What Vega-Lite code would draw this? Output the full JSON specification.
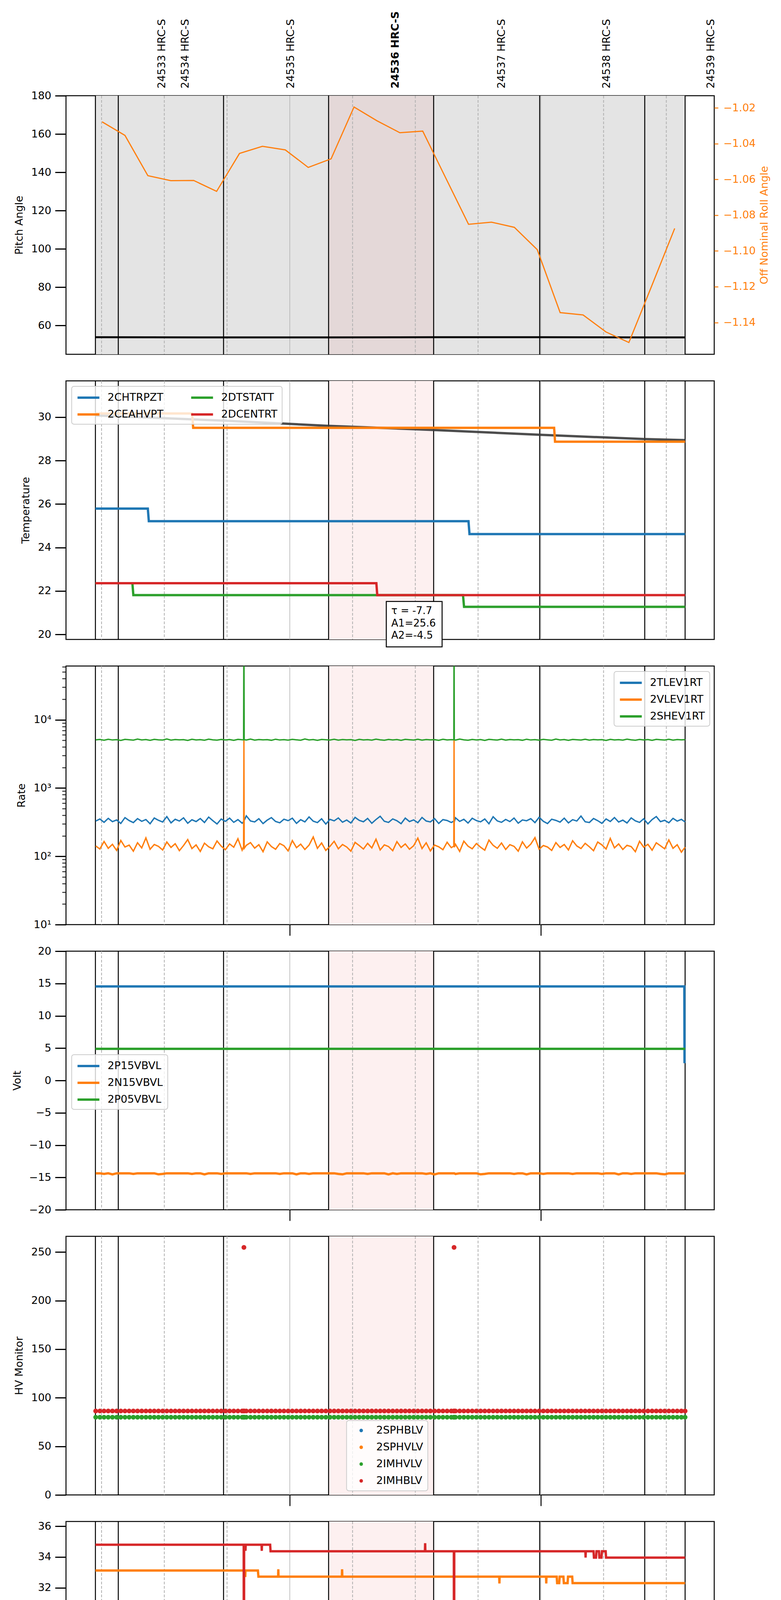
{
  "$schema": "https://vega.github.io/schema/vega-lite/v6.json",
  "padding": {"left": 28, "top": 26, "right": 10, "bottom": 0},
  "bounds": "flush",
  "spacing": 68,
  "config": {
    "font": "DejaVu Sans",
    "view": {"stroke": "#000000", "strokeWidth": 2.5},
    "axis": {"domain": false, "grid": false, "tickColor": "#000000", "labelColor": "#000000", "titleColor": "#000000", "labelFontSize": 27, "titleFontSize": 27, "titleFontWeight": "normal", "labelFlush": false, "labelOverlap": false, "labelBound": false},
    "axisY": {"tickSize": 28, "tickWidth": 3, "labelPadding": 10, "titlePadding": 16},
    "legend": {"labelFontSize": 27, "labelColor": "#000000", "fillColor": "rgba(255,255,255,0.8)", "strokeColor": "#cccccc", "strokeWidth": 2, "cornerRadius": 6, "padding": 12, "rowPadding": 13, "labelLimit": 400}
  },
  "resolve": {"scale": {"color": "independent"}},
  "datasets": {
    "span": [{"start": 13.53, "end": 154.49}],
    "hilite": [{"start": 69.27, "end": 94.38}],
    "gminor": [{"t": 15}, {"t": 30}, {"t": 45}, {"t": 75}, {"t": 90}, {"t": 105}, {"t": 135}, {"t": 150}],
    "gmajor": [{"t": 60}, {"t": 120}],
    "bounds": [{"t": 13.53}, {"t": 19.0}, {"t": 44.16}, {"t": 69.27}, {"t": 94.38}, {"t": 119.73}, {"t": 144.84}, {"t": 154.49}],
    "pitch": [{"t": 13.53, "v": 53.9}, {"t": 44.16, "v": 53.8}, {"t": 69.27, "v": 53.8}, {"t": 94.38, "v": 53.9}, {"t": 119.73, "v": 53.9}, {"t": 144.84, "v": 53.8}, {"t": 154.49, "v": 53.8}],
    "roll": [
      {"t": 15.12, "v": -1.0278}, {"t": 20.6, "v": -1.0354}, {"t": 26.07, "v": -1.0579}, {"t": 31.55, "v": -1.0607}, {"t": 37.02, "v": -1.0606},
      {"t": 42.5, "v": -1.0667}, {"t": 47.97, "v": -1.0455}, {"t": 53.45, "v": -1.0415}, {"t": 58.92, "v": -1.0435}, {"t": 64.4, "v": -1.0533},
      {"t": 69.87, "v": -1.0485}, {"t": 75.35, "v": -1.0195}, {"t": 80.82, "v": -1.0272}, {"t": 86.3, "v": -1.0339}, {"t": 91.77, "v": -1.033},
      {"t": 97.25, "v": -1.0591}, {"t": 102.72, "v": -1.0851}, {"t": 108.2, "v": -1.0839}, {"t": 113.67, "v": -1.0868}, {"t": 119.15, "v": -1.0993},
      {"t": 124.62, "v": -1.1345}, {"t": 130.1, "v": -1.1358}, {"t": 135.57, "v": -1.1453}, {"t": 141.05, "v": -1.1512}, {"t": 146.52, "v": -1.1195},
      {"t": 152.0, "v": -1.0874}
    ],
    "temp": [
      {"t": 13.53, "s": "2CHTRPZT", "v": 25.79}, {"t": 26.06, "s": "2CHTRPZT", "v": 25.79}, {"t": 26.3, "s": "2CHTRPZT", "v": 25.21}, {"t": 102.71, "s": "2CHTRPZT", "v": 25.21}, {"t": 102.95, "s": "2CHTRPZT", "v": 24.62}, {"t": 154.49, "s": "2CHTRPZT", "v": 24.62},
      {"t": 13.53, "s": "2CEAHVPT", "v": 30.17}, {"t": 36.65, "s": "2CEAHVPT", "v": 30.17}, {"t": 36.9, "s": "2CEAHVPT", "v": 29.51}, {"t": 123.18, "s": "2CEAHVPT", "v": 29.51}, {"t": 123.4, "s": "2CEAHVPT", "v": 28.87}, {"t": 154.49, "s": "2CEAHVPT", "v": 28.87},
      {"t": 13.53, "s": "2DTSTATT", "v": 22.36}, {"t": 22.37, "s": "2DTSTATT", "v": 22.36}, {"t": 22.6, "s": "2DTSTATT", "v": 21.81}, {"t": 101.4, "s": "2DTSTATT", "v": 21.81}, {"t": 101.65, "s": "2DTSTATT", "v": 21.27}, {"t": 154.49, "s": "2DTSTATT", "v": 21.27},
      {"t": 13.53, "s": "2DCENTRT", "v": 22.36}, {"t": 80.69, "s": "2DCENTRT", "v": 22.36}, {"t": 80.9, "s": "2DCENTRT", "v": 21.81}, {"t": 154.49, "s": "2DCENTRT", "v": 21.81}
    ],
    "model": [{"t": 13.53, "v": 30.08}, {"t": 44.16, "v": 29.84}, {"t": 69.27, "v": 29.6}, {"t": 94.38, "v": 29.41}, {"t": 119.73, "v": 29.19}, {"t": 144.84, "v": 28.99}, {"t": 154.49, "v": 28.94}],
    "tbox": [{"x1": 83.06, "x2": 96.4, "y1": 21.52, "y2": 19.43}],
    "tnote": [{"t": 84.26, "v": 21.09, "txt": "τ = -7.7"}, {"t": 84.26, "v": 20.51, "txt": "A1=25.6"}, {"t": 84.26, "v": 19.95, "txt": "A2=-4.5"}],
    "volt": [
      {"t": 13.53, "s": "2P15VBVL", "v": 14.54}, {"t": 154.3, "s": "2P15VBVL", "v": 14.54}, {"t": 154.35, "s": "2P15VBVL", "v": 2.68},
      {"t": 13.53, "s": "2P05VBVL", "v": 4.9}, {"t": 154.49, "s": "2P05VBVL", "v": 4.9}
    ],
    "tlm": [
      {"t": 13.6, "2TLEV1RT": 328, "2VLEV1RT": 142, "2SHEV1RT": 5080, "2N15VBVL": -14.36, "2IMHBLV": 86.4, "2IMHVLV": 80},
      {"t": 14.6, "2TLEV1RT": 352, "2VLEV1RT": 128, "2SHEV1RT": 5150, "2N15VBVL": -14.36, "2IMHBLV": 86.4, "2IMHVLV": 80},
      {"t": 15.6, "2TLEV1RT": 315, "2VLEV1RT": 165, "2SHEV1RT": 5020, "2N15VBVL": -14.46, "2IMHBLV": 86.4, "2IMHVLV": 80},
      {"t": 16.6, "2TLEV1RT": 360, "2VLEV1RT": 131, "2SHEV1RT": 5190, "2N15VBVL": -14.36, "2IMHBLV": 86.4, "2IMHVLV": 80},
      {"t": 17.6, "2TLEV1RT": 322, "2VLEV1RT": 150, "2SHEV1RT": 5060, "2N15VBVL": -14.52, "2IMHBLV": 86.4, "2IMHVLV": 80},
      {"t": 18.6, "2TLEV1RT": 341, "2VLEV1RT": 122, "2SHEV1RT": 5120, "2N15VBVL": -14.36, "2IMHBLV": 86.4, "2IMHVLV": 80},
      {"t": 19.6, "2TLEV1RT": 303, "2VLEV1RT": 171, "2SHEV1RT": 4990, "2N15VBVL": -14.36, "2IMHBLV": 86.4, "2IMHVLV": 80},
      {"t": 20.6, "2TLEV1RT": 369, "2VLEV1RT": 137, "2SHEV1RT": 5170, "2N15VBVL": -14.36, "2IMHBLV": 86.4, "2IMHVLV": 80},
      {"t": 21.6, "2TLEV1RT": 334, "2VLEV1RT": 146, "2SHEV1RT": 5100, "2N15VBVL": -14.36, "2IMHBLV": 86.4, "2IMHVLV": 80},
      {"t": 22.6, "2TLEV1RT": 312, "2VLEV1RT": 119, "2SHEV1RT": 5040, "2N15VBVL": -14.46, "2IMHBLV": 86.4, "2IMHVLV": 80},
      {"t": 23.6, "2TLEV1RT": 357, "2VLEV1RT": 158, "2SHEV1RT": 5210, "2N15VBVL": -14.36, "2IMHBLV": 86.4, "2IMHVLV": 80},
      {"t": 24.6, "2TLEV1RT": 326, "2VLEV1RT": 133, "2SHEV1RT": 5070, "2N15VBVL": -14.36, "2IMHBLV": 86.4, "2IMHVLV": 80},
      {"t": 25.6, "2TLEV1RT": 346, "2VLEV1RT": 186, "2SHEV1RT": 5130, "2N15VBVL": -14.36, "2IMHBLV": 86.4, "2IMHVLV": 80},
      {"t": 26.6, "2TLEV1RT": 300, "2VLEV1RT": 127, "2SHEV1RT": 5010, "2N15VBVL": -14.36, "2IMHBLV": 86.4, "2IMHVLV": 80},
      {"t": 27.6, "2TLEV1RT": 364, "2VLEV1RT": 149, "2SHEV1RT": 5160, "2N15VBVL": -14.36, "2IMHBLV": 86.4, "2IMHVLV": 80},
      {"t": 28.6, "2TLEV1RT": 337, "2VLEV1RT": 140, "2SHEV1RT": 5090, "2N15VBVL": -14.52, "2IMHBLV": 86.4, "2IMHVLV": 80},
      {"t": 29.6, "2TLEV1RT": 318, "2VLEV1RT": 124, "2SHEV1RT": 5050, "2N15VBVL": -14.46, "2IMHBLV": 86.4, "2IMHVLV": 80},
      {"t": 30.6, "2TLEV1RT": 382, "2VLEV1RT": 162, "2SHEV1RT": 5240, "2N15VBVL": -14.36, "2IMHBLV": 86.4, "2IMHVLV": 80},
      {"t": 31.6, "2TLEV1RT": 309, "2VLEV1RT": 135, "2SHEV1RT": 5030, "2N15VBVL": -14.36, "2IMHBLV": 86.4, "2IMHVLV": 80},
      {"t": 32.6, "2TLEV1RT": 349, "2VLEV1RT": 153, "2SHEV1RT": 5140, "2N15VBVL": -14.36, "2IMHBLV": 86.4, "2IMHVLV": 80},
      {"t": 33.6, "2TLEV1RT": 329, "2VLEV1RT": 121, "2SHEV1RT": 5080, "2N15VBVL": -14.36, "2IMHBLV": 86.4, "2IMHVLV": 80},
      {"t": 34.6, "2TLEV1RT": 366, "2VLEV1RT": 144, "2SHEV1RT": 5110, "2N15VBVL": -14.36, "2IMHBLV": 86.4, "2IMHVLV": 80},
      {"t": 35.6, "2TLEV1RT": 305, "2VLEV1RT": 176, "2SHEV1RT": 4980, "2N15VBVL": -14.36, "2IMHBLV": 86.4, "2IMHVLV": 80},
      {"t": 36.6, "2TLEV1RT": 343, "2VLEV1RT": 130, "2SHEV1RT": 5180, "2N15VBVL": -14.46, "2IMHBLV": 86.4, "2IMHVLV": 80},
      {"t": 37.6, "2TLEV1RT": 323, "2VLEV1RT": 147, "2SHEV1RT": 5060, "2N15VBVL": -14.36, "2IMHBLV": 86.4, "2IMHVLV": 80},
      {"t": 38.6, "2TLEV1RT": 358, "2VLEV1RT": 118, "2SHEV1RT": 5120, "2N15VBVL": -14.36, "2IMHBLV": 86.4, "2IMHVLV": 80},
      {"t": 39.6, "2TLEV1RT": 313, "2VLEV1RT": 156, "2SHEV1RT": 5020, "2N15VBVL": -14.52, "2IMHBLV": 86.4, "2IMHVLV": 80},
      {"t": 40.6, "2TLEV1RT": 376, "2VLEV1RT": 138, "2SHEV1RT": 5200, "2N15VBVL": -14.36, "2IMHBLV": 86.4, "2IMHVLV": 80},
      {"t": 41.6, "2TLEV1RT": 333, "2VLEV1RT": 129, "2SHEV1RT": 5090, "2N15VBVL": -14.36, "2IMHBLV": 86.4, "2IMHVLV": 80},
      {"t": 42.6, "2TLEV1RT": 298, "2VLEV1RT": 168, "2SHEV1RT": 5040, "2N15VBVL": -14.36, "2IMHBLV": 86.4, "2IMHVLV": 80},
      {"t": 43.6, "2TLEV1RT": 352, "2VLEV1RT": 141, "2SHEV1RT": 5150, "2N15VBVL": -14.46, "2IMHBLV": 86.4, "2IMHVLV": 80},
      {"t": 44.6, "2TLEV1RT": 325, "2VLEV1RT": 125, "2SHEV1RT": 5070, "2N15VBVL": -14.36, "2IMHBLV": 86.4, "2IMHVLV": 80},
      {"t": 45.6, "2TLEV1RT": 363, "2VLEV1RT": 152, "2SHEV1RT": 5130, "2N15VBVL": -14.36, "2IMHBLV": 86.4, "2IMHVLV": 80},
      {"t": 46.6, "2TLEV1RT": 315, "2VLEV1RT": 136, "2SHEV1RT": 5000, "2N15VBVL": -14.36, "2IMHBLV": 86.4, "2IMHVLV": 80},
      {"t": 47.6, "2TLEV1RT": 345, "2VLEV1RT": 181, "2SHEV1RT": 5170, "2N15VBVL": -14.36, "2IMHBLV": 86.4, "2IMHVLV": 80},
      {"t": 48.6, "2TLEV1RT": 306, "2VLEV1RT": 123, "2SHEV1RT": 5100, "2N15VBVL": -14.36, "2IMHBLV": 86.4, "2IMHVLV": 80},
      {"t": 48.95, "2TLEV1RT": 321, "2VLEV1RT": 139, "2SHEV1RT": 5090, "2N15VBVL": -14.36, "2IMHBLV": 86.4, "2IMHVLV": 80},
      {"t": 49.03, "2TLEV1RT": 330, "2VLEV1RT": 5000, "2SHEV1RT": 400000, "2N15VBVL": -14.36, "2IMHBLV": 254.8, "2IMHVLV": 80},
      {"t": 49.1, "2TLEV1RT": 336, "2VLEV1RT": 131, "2SHEV1RT": 5120, "2N15VBVL": -14.36, "2IMHBLV": 86.4, "2IMHVLV": 80},
      {"t": 49.6, "2TLEV1RT": 392, "2VLEV1RT": 145, "2SHEV1RT": 5050, "2N15VBVL": -14.36, "2IMHBLV": 86.4, "2IMHVLV": 80},
      {"t": 50.6, "2TLEV1RT": 330, "2VLEV1RT": 159, "2SHEV1RT": 5220, "2N15VBVL": -14.46, "2IMHBLV": 86.4, "2IMHVLV": 80},
      {"t": 51.6, "2TLEV1RT": 319, "2VLEV1RT": 132, "2SHEV1RT": 5030, "2N15VBVL": -14.36, "2IMHBLV": 86.4, "2IMHVLV": 80},
      {"t": 52.6, "2TLEV1RT": 356, "2VLEV1RT": 148, "2SHEV1RT": 5140, "2N15VBVL": -14.36, "2IMHBLV": 86.4, "2IMHVLV": 80},
      {"t": 53.6, "2TLEV1RT": 302, "2VLEV1RT": 117, "2SHEV1RT": 5080, "2N15VBVL": -14.36, "2IMHBLV": 86.4, "2IMHVLV": 80},
      {"t": 54.6, "2TLEV1RT": 339, "2VLEV1RT": 163, "2SHEV1RT": 5110, "2N15VBVL": -14.36, "2IMHBLV": 86.4, "2IMHVLV": 80},
      {"t": 55.6, "2TLEV1RT": 369, "2VLEV1RT": 139, "2SHEV1RT": 5010, "2N15VBVL": -14.36, "2IMHBLV": 86.4, "2IMHVLV": 80},
      {"t": 56.6, "2TLEV1RT": 324, "2VLEV1RT": 127, "2SHEV1RT": 5190, "2N15VBVL": -14.36, "2IMHBLV": 86.4, "2IMHVLV": 80},
      {"t": 57.6, "2TLEV1RT": 310, "2VLEV1RT": 154, "2SHEV1RT": 5060, "2N15VBVL": -14.46, "2IMHBLV": 86.4, "2IMHVLV": 80},
      {"t": 58.6, "2TLEV1RT": 350, "2VLEV1RT": 143, "2SHEV1RT": 5120, "2N15VBVL": -14.36, "2IMHBLV": 86.4, "2IMHVLV": 80},
      {"t": 59.6, "2TLEV1RT": 333, "2VLEV1RT": 120, "2SHEV1RT": 5040, "2N15VBVL": -14.36, "2IMHBLV": 86.4, "2IMHVLV": 80},
      {"t": 60.6, "2TLEV1RT": 362, "2VLEV1RT": 170, "2SHEV1RT": 5160, "2N15VBVL": -14.36, "2IMHBLV": 86.4, "2IMHVLV": 80},
      {"t": 61.6, "2TLEV1RT": 304, "2VLEV1RT": 134, "2SHEV1RT": 5090, "2N15VBVL": -14.52, "2IMHBLV": 86.4, "2IMHVLV": 80},
      {"t": 62.6, "2TLEV1RT": 344, "2VLEV1RT": 151, "2SHEV1RT": 5020, "2N15VBVL": -14.36, "2IMHBLV": 86.4, "2IMHVLV": 80},
      {"t": 63.6, "2TLEV1RT": 319, "2VLEV1RT": 126, "2SHEV1RT": 5230, "2N15VBVL": -14.36, "2IMHBLV": 86.4, "2IMHVLV": 80},
      {"t": 64.6, "2TLEV1RT": 378, "2VLEV1RT": 146, "2SHEV1RT": 5070, "2N15VBVL": -14.46, "2IMHBLV": 86.4, "2IMHVLV": 80},
      {"t": 65.6, "2TLEV1RT": 327, "2VLEV1RT": 192, "2SHEV1RT": 5130, "2N15VBVL": -14.36, "2IMHBLV": 86.4, "2IMHVLV": 80},
      {"t": 66.6, "2TLEV1RT": 312, "2VLEV1RT": 131, "2SHEV1RT": 5000, "2N15VBVL": -14.36, "2IMHBLV": 86.4, "2IMHVLV": 80},
      {"t": 67.6, "2TLEV1RT": 355, "2VLEV1RT": 157, "2SHEV1RT": 5150, "2N15VBVL": -14.36, "2IMHBLV": 86.4, "2IMHVLV": 80},
      {"t": 68.6, "2TLEV1RT": 297, "2VLEV1RT": 122, "2SHEV1RT": 5100, "2N15VBVL": -14.36, "2IMHBLV": 86.4, "2IMHVLV": 80},
      {"t": 69.6, "2TLEV1RT": 348, "2VLEV1RT": 140, "2SHEV1RT": 5050, "2N15VBVL": -14.36, "2IMHBLV": 86.4, "2IMHVLV": 80},
      {"t": 70.6, "2TLEV1RT": 331, "2VLEV1RT": 166, "2SHEV1RT": 5180, "2N15VBVL": -14.36, "2IMHBLV": 86.4, "2IMHVLV": 80},
      {"t": 71.6, "2TLEV1RT": 365, "2VLEV1RT": 129, "2SHEV1RT": 5030, "2N15VBVL": -14.46, "2IMHBLV": 86.4, "2IMHVLV": 80},
      {"t": 72.6, "2TLEV1RT": 316, "2VLEV1RT": 149, "2SHEV1RT": 5140, "2N15VBVL": -14.52, "2IMHBLV": 86.4, "2IMHVLV": 80},
      {"t": 73.6, "2TLEV1RT": 340, "2VLEV1RT": 137, "2SHEV1RT": 5080, "2N15VBVL": -14.36, "2IMHBLV": 86.4, "2IMHVLV": 80},
      {"t": 74.6, "2TLEV1RT": 308, "2VLEV1RT": 119, "2SHEV1RT": 5110, "2N15VBVL": -14.36, "2IMHBLV": 86.4, "2IMHVLV": 80},
      {"t": 75.6, "2TLEV1RT": 372, "2VLEV1RT": 160, "2SHEV1RT": 4990, "2N15VBVL": -14.36, "2IMHBLV": 86.4, "2IMHVLV": 80},
      {"t": 76.6, "2TLEV1RT": 336, "2VLEV1RT": 144, "2SHEV1RT": 5170, "2N15VBVL": -14.36, "2IMHBLV": 86.4, "2IMHVLV": 80},
      {"t": 77.6, "2TLEV1RT": 321, "2VLEV1RT": 128, "2SHEV1RT": 5060, "2N15VBVL": -14.36, "2IMHBLV": 86.4, "2IMHVLV": 80},
      {"t": 78.6, "2TLEV1RT": 359, "2VLEV1RT": 155, "2SHEV1RT": 5120, "2N15VBVL": -14.46, "2IMHBLV": 86.4, "2IMHVLV": 80},
      {"t": 79.6, "2TLEV1RT": 305, "2VLEV1RT": 133, "2SHEV1RT": 5040, "2N15VBVL": -14.36, "2IMHBLV": 86.4, "2IMHVLV": 80},
      {"t": 80.6, "2TLEV1RT": 346, "2VLEV1RT": 178, "2SHEV1RT": 5200, "2N15VBVL": -14.36, "2IMHBLV": 86.4, "2IMHVLV": 80},
      {"t": 81.6, "2TLEV1RT": 386, "2VLEV1RT": 124, "2SHEV1RT": 5090, "2N15VBVL": -14.36, "2IMHBLV": 86.4, "2IMHVLV": 80},
      {"t": 82.6, "2TLEV1RT": 326, "2VLEV1RT": 147, "2SHEV1RT": 5020, "2N15VBVL": -14.36, "2IMHBLV": 86.4, "2IMHVLV": 80},
      {"t": 83.6, "2TLEV1RT": 314, "2VLEV1RT": 139, "2SHEV1RT": 5150, "2N15VBVL": -14.52, "2IMHBLV": 86.4, "2IMHVLV": 80},
      {"t": 84.6, "2TLEV1RT": 353, "2VLEV1RT": 121, "2SHEV1RT": 5070, "2N15VBVL": -14.36, "2IMHBLV": 86.4, "2IMHVLV": 80},
      {"t": 85.6, "2TLEV1RT": 332, "2VLEV1RT": 164, "2SHEV1RT": 5130, "2N15VBVL": -14.46, "2IMHBLV": 86.4, "2IMHVLV": 80},
      {"t": 86.6, "2TLEV1RT": 301, "2VLEV1RT": 135, "2SHEV1RT": 5010, "2N15VBVL": -14.36, "2IMHBLV": 86.4, "2IMHVLV": 80},
      {"t": 87.6, "2TLEV1RT": 363, "2VLEV1RT": 152, "2SHEV1RT": 5160, "2N15VBVL": -14.36, "2IMHBLV": 86.4, "2IMHVLV": 80},
      {"t": 88.6, "2TLEV1RT": 323, "2VLEV1RT": 127, "2SHEV1RT": 5100, "2N15VBVL": -14.36, "2IMHBLV": 86.4, "2IMHVLV": 80},
      {"t": 89.6, "2TLEV1RT": 342, "2VLEV1RT": 143, "2SHEV1RT": 5050, "2N15VBVL": -14.36, "2IMHBLV": 86.4, "2IMHVLV": 80},
      {"t": 90.6, "2TLEV1RT": 311, "2VLEV1RT": 185, "2SHEV1RT": 5190, "2N15VBVL": -14.36, "2IMHBLV": 86.4, "2IMHVLV": 80},
      {"t": 91.6, "2TLEV1RT": 371, "2VLEV1RT": 130, "2SHEV1RT": 5030, "2N15VBVL": -14.36, "2IMHBLV": 86.4, "2IMHVLV": 80},
      {"t": 92.6, "2TLEV1RT": 329, "2VLEV1RT": 158, "2SHEV1RT": 5140, "2N15VBVL": -14.46, "2IMHBLV": 86.4, "2IMHVLV": 80},
      {"t": 93.6, "2TLEV1RT": 319, "2VLEV1RT": 120, "2SHEV1RT": 5080, "2N15VBVL": -14.36, "2IMHBLV": 86.4, "2IMHVLV": 80},
      {"t": 94.6, "2TLEV1RT": 357, "2VLEV1RT": 146, "2SHEV1RT": 5110, "2N15VBVL": -14.52, "2IMHBLV": 86.4, "2IMHVLV": 80},
      {"t": 95.6, "2TLEV1RT": 303, "2VLEV1RT": 138, "2SHEV1RT": 5000, "2N15VBVL": -14.36, "2IMHBLV": 86.4, "2IMHVLV": 80},
      {"t": 96.6, "2TLEV1RT": 345, "2VLEV1RT": 125, "2SHEV1RT": 5180, "2N15VBVL": -14.36, "2IMHBLV": 86.4, "2IMHVLV": 80},
      {"t": 97.6, "2TLEV1RT": 335, "2VLEV1RT": 161, "2SHEV1RT": 5060, "2N15VBVL": -14.36, "2IMHBLV": 86.4, "2IMHVLV": 80},
      {"t": 98.6, "2TLEV1RT": 313, "2VLEV1RT": 134, "2SHEV1RT": 5120, "2N15VBVL": -14.36, "2IMHBLV": 86.4, "2IMHVLV": 80},
      {"t": 99.2, "2TLEV1RT": 328, "2VLEV1RT": 141, "2SHEV1RT": 5090, "2N15VBVL": -14.36, "2IMHBLV": 86.4, "2IMHVLV": 80},
      {"t": 99.26, "2TLEV1RT": 331, "2VLEV1RT": 5000, "2SHEV1RT": 400000, "2N15VBVL": -14.36, "2IMHBLV": 254.8, "2IMHVLV": 80},
      {"t": 99.32, "2TLEV1RT": 320, "2VLEV1RT": 136, "2SHEV1RT": 5100, "2N15VBVL": -14.36, "2IMHBLV": 86.4, "2IMHVLV": 80},
      {"t": 99.6, "2TLEV1RT": 367, "2VLEV1RT": 150, "2SHEV1RT": 5040, "2N15VBVL": -14.46, "2IMHBLV": 86.4, "2IMHVLV": 80},
      {"t": 100.6, "2TLEV1RT": 325, "2VLEV1RT": 118, "2SHEV1RT": 5210, "2N15VBVL": -14.36, "2IMHBLV": 86.4, "2IMHVLV": 80},
      {"t": 101.6, "2TLEV1RT": 349, "2VLEV1RT": 167, "2SHEV1RT": 5090, "2N15VBVL": -14.36, "2IMHBLV": 86.4, "2IMHVLV": 80},
      {"t": 102.6, "2TLEV1RT": 307, "2VLEV1RT": 141, "2SHEV1RT": 5020, "2N15VBVL": -14.36, "2IMHBLV": 86.4, "2IMHVLV": 80},
      {"t": 103.6, "2TLEV1RT": 361, "2VLEV1RT": 129, "2SHEV1RT": 5150, "2N15VBVL": -14.36, "2IMHBLV": 86.4, "2IMHVLV": 80},
      {"t": 104.6, "2TLEV1RT": 334, "2VLEV1RT": 154, "2SHEV1RT": 5070, "2N15VBVL": -14.36, "2IMHBLV": 86.4, "2IMHVLV": 80},
      {"t": 105.6, "2TLEV1RT": 320, "2VLEV1RT": 136, "2SHEV1RT": 5130, "2N15VBVL": -14.52, "2IMHBLV": 86.4, "2IMHVLV": 80},
      {"t": 106.6, "2TLEV1RT": 352, "2VLEV1RT": 123, "2SHEV1RT": 4980, "2N15VBVL": -14.46, "2IMHBLV": 86.4, "2IMHVLV": 80},
      {"t": 107.6, "2TLEV1RT": 300, "2VLEV1RT": 173, "2SHEV1RT": 5170, "2N15VBVL": -14.36, "2IMHBLV": 86.4, "2IMHVLV": 80},
      {"t": 108.6, "2TLEV1RT": 380, "2VLEV1RT": 145, "2SHEV1RT": 5100, "2N15VBVL": -14.36, "2IMHBLV": 86.4, "2IMHVLV": 80},
      {"t": 109.6, "2TLEV1RT": 330, "2VLEV1RT": 131, "2SHEV1RT": 5050, "2N15VBVL": -14.36, "2IMHBLV": 86.4, "2IMHVLV": 80},
      {"t": 110.6, "2TLEV1RT": 315, "2VLEV1RT": 157, "2SHEV1RT": 5200, "2N15VBVL": -14.36, "2IMHBLV": 86.4, "2IMHVLV": 80},
      {"t": 111.6, "2TLEV1RT": 347, "2VLEV1RT": 126, "2SHEV1RT": 5030, "2N15VBVL": -14.36, "2IMHBLV": 86.4, "2IMHVLV": 80},
      {"t": 112.6, "2TLEV1RT": 323, "2VLEV1RT": 148, "2SHEV1RT": 5140, "2N15VBVL": -14.36, "2IMHBLV": 86.4, "2IMHVLV": 80},
      {"t": 113.6, "2TLEV1RT": 364, "2VLEV1RT": 140, "2SHEV1RT": 5080, "2N15VBVL": -14.46, "2IMHBLV": 86.4, "2IMHVLV": 80},
      {"t": 114.6, "2TLEV1RT": 306, "2VLEV1RT": 119, "2SHEV1RT": 5110, "2N15VBVL": -14.36, "2IMHBLV": 86.4, "2IMHVLV": 80},
      {"t": 115.6, "2TLEV1RT": 341, "2VLEV1RT": 163, "2SHEV1RT": 5010, "2N15VBVL": -14.36, "2IMHBLV": 86.4, "2IMHVLV": 80},
      {"t": 116.6, "2TLEV1RT": 332, "2VLEV1RT": 132, "2SHEV1RT": 5190, "2N15VBVL": -14.52, "2IMHBLV": 86.4, "2IMHVLV": 80},
      {"t": 117.6, "2TLEV1RT": 356, "2VLEV1RT": 151, "2SHEV1RT": 5060, "2N15VBVL": -14.36, "2IMHBLV": 86.4, "2IMHVLV": 80},
      {"t": 118.6, "2TLEV1RT": 312, "2VLEV1RT": 188, "2SHEV1RT": 5120, "2N15VBVL": -14.36, "2IMHBLV": 86.4, "2IMHVLV": 80},
      {"t": 119.6, "2TLEV1RT": 374, "2VLEV1RT": 127, "2SHEV1RT": 5040, "2N15VBVL": -14.36, "2IMHBLV": 86.4, "2IMHVLV": 80},
      {"t": 120.6, "2TLEV1RT": 326, "2VLEV1RT": 144, "2SHEV1RT": 5160, "2N15VBVL": -14.46, "2IMHBLV": 86.4, "2IMHVLV": 80},
      {"t": 121.6, "2TLEV1RT": 302, "2VLEV1RT": 137, "2SHEV1RT": 5090, "2N15VBVL": -14.36, "2IMHBLV": 86.4, "2IMHVLV": 80},
      {"t": 122.6, "2TLEV1RT": 350, "2VLEV1RT": 122, "2SHEV1RT": 5020, "2N15VBVL": -14.36, "2IMHBLV": 86.4, "2IMHVLV": 80},
      {"t": 123.6, "2TLEV1RT": 336, "2VLEV1RT": 159, "2SHEV1RT": 5220, "2N15VBVL": -14.36, "2IMHBLV": 86.4, "2IMHVLV": 80},
      {"t": 124.6, "2TLEV1RT": 317, "2VLEV1RT": 135, "2SHEV1RT": 5070, "2N15VBVL": -14.36, "2IMHBLV": 86.4, "2IMHVLV": 80},
      {"t": 125.6, "2TLEV1RT": 362, "2VLEV1RT": 149, "2SHEV1RT": 5130, "2N15VBVL": -14.36, "2IMHBLV": 86.4, "2IMHVLV": 80},
      {"t": 126.6, "2TLEV1RT": 309, "2VLEV1RT": 124, "2SHEV1RT": 5000, "2N15VBVL": -14.36, "2IMHBLV": 86.4, "2IMHVLV": 80},
      {"t": 127.6, "2TLEV1RT": 344, "2VLEV1RT": 169, "2SHEV1RT": 5150, "2N15VBVL": -14.46, "2IMHBLV": 86.4, "2IMHVLV": 80},
      {"t": 128.6, "2TLEV1RT": 329, "2VLEV1RT": 142, "2SHEV1RT": 5100, "2N15VBVL": -14.36, "2IMHBLV": 86.4, "2IMHVLV": 80},
      {"t": 129.6, "2TLEV1RT": 389, "2VLEV1RT": 130, "2SHEV1RT": 5050, "2N15VBVL": -14.36, "2IMHBLV": 86.4, "2IMHVLV": 80},
      {"t": 130.6, "2TLEV1RT": 321, "2VLEV1RT": 155, "2SHEV1RT": 5180, "2N15VBVL": -14.36, "2IMHBLV": 86.4, "2IMHVLV": 80},
      {"t": 131.6, "2TLEV1RT": 313, "2VLEV1RT": 138, "2SHEV1RT": 5030, "2N15VBVL": -14.36, "2IMHBLV": 86.4, "2IMHVLV": 80},
      {"t": 132.6, "2TLEV1RT": 358, "2VLEV1RT": 121, "2SHEV1RT": 5140, "2N15VBVL": -14.36, "2IMHBLV": 86.4, "2IMHVLV": 80},
      {"t": 133.6, "2TLEV1RT": 333, "2VLEV1RT": 162, "2SHEV1RT": 5080, "2N15VBVL": -14.36, "2IMHBLV": 86.4, "2IMHVLV": 80},
      {"t": 134.6, "2TLEV1RT": 304, "2VLEV1RT": 147, "2SHEV1RT": 5110, "2N15VBVL": -14.46, "2IMHBLV": 86.4, "2IMHVLV": 80},
      {"t": 135.6, "2TLEV1RT": 353, "2VLEV1RT": 128, "2SHEV1RT": 4990, "2N15VBVL": -14.36, "2IMHBLV": 86.4, "2IMHVLV": 80},
      {"t": 136.6, "2TLEV1RT": 324, "2VLEV1RT": 183, "2SHEV1RT": 5170, "2N15VBVL": -14.36, "2IMHBLV": 86.4, "2IMHVLV": 80},
      {"t": 137.6, "2TLEV1RT": 370, "2VLEV1RT": 133, "2SHEV1RT": 5060, "2N15VBVL": -14.36, "2IMHBLV": 86.4, "2IMHVLV": 80},
      {"t": 138.6, "2TLEV1RT": 318, "2VLEV1RT": 152, "2SHEV1RT": 5120, "2N15VBVL": -14.52, "2IMHBLV": 86.4, "2IMHVLV": 80},
      {"t": 139.6, "2TLEV1RT": 339, "2VLEV1RT": 126, "2SHEV1RT": 5040, "2N15VBVL": -14.36, "2IMHBLV": 86.4, "2IMHVLV": 80},
      {"t": 140.6, "2TLEV1RT": 308, "2VLEV1RT": 145, "2SHEV1RT": 5200, "2N15VBVL": -14.36, "2IMHBLV": 86.4, "2IMHVLV": 80},
      {"t": 141.6, "2TLEV1RT": 365, "2VLEV1RT": 139, "2SHEV1RT": 5090, "2N15VBVL": -14.46, "2IMHBLV": 86.4, "2IMHVLV": 80},
      {"t": 142.6, "2TLEV1RT": 331, "2VLEV1RT": 117, "2SHEV1RT": 5020, "2N15VBVL": -14.36, "2IMHBLV": 86.4, "2IMHVLV": 80},
      {"t": 143.6, "2TLEV1RT": 314, "2VLEV1RT": 166, "2SHEV1RT": 5150, "2N15VBVL": -14.36, "2IMHBLV": 86.4, "2IMHVLV": 80},
      {"t": 144.6, "2TLEV1RT": 355, "2VLEV1RT": 136, "2SHEV1RT": 5070, "2N15VBVL": -14.36, "2IMHBLV": 86.4, "2IMHVLV": 80},
      {"t": 145.6, "2TLEV1RT": 299, "2VLEV1RT": 150, "2SHEV1RT": 5130, "2N15VBVL": -14.36, "2IMHBLV": 86.4, "2IMHVLV": 80},
      {"t": 146.6, "2TLEV1RT": 346, "2VLEV1RT": 123, "2SHEV1RT": 5010, "2N15VBVL": -14.36, "2IMHBLV": 86.4, "2IMHVLV": 80},
      {"t": 147.6, "2TLEV1RT": 383, "2VLEV1RT": 158, "2SHEV1RT": 5160, "2N15VBVL": -14.36, "2IMHBLV": 86.4, "2IMHVLV": 80},
      {"t": 148.6, "2TLEV1RT": 322, "2VLEV1RT": 143, "2SHEV1RT": 5100, "2N15VBVL": -14.46, "2IMHBLV": 86.4, "2IMHVLV": 80},
      {"t": 149.6, "2TLEV1RT": 337, "2VLEV1RT": 129, "2SHEV1RT": 5050, "2N15VBVL": -14.52, "2IMHBLV": 86.4, "2IMHVLV": 80},
      {"t": 150.6, "2TLEV1RT": 310, "2VLEV1RT": 174, "2SHEV1RT": 5190, "2N15VBVL": -14.36, "2IMHBLV": 86.4, "2IMHVLV": 80},
      {"t": 151.6, "2TLEV1RT": 360, "2VLEV1RT": 131, "2SHEV1RT": 5030, "2N15VBVL": -14.36, "2IMHBLV": 86.4, "2IMHVLV": 80},
      {"t": 152.6, "2TLEV1RT": 328, "2VLEV1RT": 148, "2SHEV1RT": 5140, "2N15VBVL": -14.36, "2IMHBLV": 86.4, "2IMHVLV": 80},
      {"t": 153.6, "2TLEV1RT": 348, "2VLEV1RT": 115, "2SHEV1RT": 5080, "2N15VBVL": -14.36, "2IMHBLV": 86.4, "2IMHVLV": 80},
      {"t": 154.49, "2TLEV1RT": 318, "2VLEV1RT": 136, "2SHEV1RT": 5110, "2N15VBVL": -14.36, "2IMHBLV": 86.4, "2IMHVLV": 80}
    ],
    "dtemp": [
      {"t": 13.53, "s": "2SPINATM", "v": 21.7}, {"t": 58.2, "s": "2SPINATM", "v": 21.7}, {"t": 58.3, "s": "2SPINATM", "v": 20.95}, {"t": 58.4, "s": "2SPINATM", "v": 21.7},
      {"t": 59.5, "s": "2SPINATM", "v": 21.7}, {"t": 59.6, "s": "2SPINATM", "v": 21.0}, {"t": 59.8, "s": "2SPINATM", "v": 21.7}, {"t": 60.0, "s": "2SPINATM", "v": 21.0},
      {"t": 60.2, "s": "2SPINATM", "v": 21.7}, {"t": 60.4, "s": "2SPINATM", "v": 21.0}, {"t": 60.6, "s": "2SPINATM", "v": 21.7}, {"t": 60.8, "s": "2SPINATM", "v": 21.0},
      {"t": 61.0, "s": "2SPINATM", "v": 21.7}, {"t": 61.2, "s": "2SPINATM", "v": 21.0}, {"t": 61.4, "s": "2SPINATM", "v": 21.7}, {"t": 61.6, "s": "2SPINATM", "v": 21.0},
      {"t": 61.8, "s": "2SPINATM", "v": 21.7}, {"t": 62.0, "s": "2SPINATM", "v": 21.0}, {"t": 62.2, "s": "2SPINATM", "v": 21.7}, {"t": 62.4, "s": "2SPINATM", "v": 21.0},
      {"t": 154.49, "s": "2SPINATM", "v": 21.0},
      {"t": 13.53, "s": "2SPHVATM", "v": 33.12}, {"t": 49.3, "s": "2SPHVATM", "v": 33.12}, {"t": 49.35, "s": "2SPHVATM", "v": 32.7}, {"t": 49.4, "s": "2SPHVATM", "v": 33.12},
      {"t": 52.37, "s": "2SPHVATM", "v": 33.12}, {"t": 52.5, "s": "2SPHVATM", "v": 32.72}, {"t": 57.2, "s": "2SPHVATM", "v": 32.72}, {"t": 57.25, "s": "2SPHVATM", "v": 33.2},
      {"t": 57.3, "s": "2SPHVATM", "v": 32.72}, {"t": 72.45, "s": "2SPHVATM", "v": 32.72}, {"t": 72.5, "s": "2SPHVATM", "v": 33.2}, {"t": 72.55, "s": "2SPHVATM", "v": 32.72},
      {"t": 110.05, "s": "2SPHVATM", "v": 32.72}, {"t": 110.1, "s": "2SPHVATM", "v": 32.28}, {"t": 110.15, "s": "2SPHVATM", "v": 32.72}, {"t": 121.25, "s": "2SPHVATM", "v": 32.72},
      {"t": 121.3, "s": "2SPHVATM", "v": 32.28}, {"t": 121.35, "s": "2SPHVATM", "v": 32.72}, {"t": 123.8, "s": "2SPHVATM", "v": 32.72}, {"t": 123.9, "s": "2SPHVATM", "v": 32.3},
      {"t": 124.4, "s": "2SPHVATM", "v": 32.3}, {"t": 124.5, "s": "2SPHVATM", "v": 32.72}, {"t": 125.4, "s": "2SPHVATM", "v": 32.72}, {"t": 125.5, "s": "2SPHVATM", "v": 32.3},
      {"t": 126.4, "s": "2SPHVATM", "v": 32.3}, {"t": 126.5, "s": "2SPHVATM", "v": 32.72}, {"t": 127.5, "s": "2SPHVATM", "v": 32.72}, {"t": 127.6, "s": "2SPHVATM", "v": 32.3},
      {"t": 154.49, "s": "2SPHVATM", "v": 32.3},
      {"t": 13.53, "s": "2IMINATM", "v": 22.41}, {"t": 50.2, "s": "2IMINATM", "v": 22.41}, {"t": 50.3, "s": "2IMINATM", "v": 21.7}, {"t": 50.5, "s": "2IMINATM", "v": 22.41},
      {"t": 51.0, "s": "2IMINATM", "v": 22.41}, {"t": 51.1, "s": "2IMINATM", "v": 21.7}, {"t": 51.3, "s": "2IMINATM", "v": 22.41}, {"t": 51.7, "s": "2IMINATM", "v": 22.41},
      {"t": 51.8, "s": "2IMINATM", "v": 21.7}, {"t": 154.49, "s": "2IMINATM", "v": 21.7},
      {"t": 13.53, "s": "2IMHVATM", "v": 34.8}, {"t": 48.98, "s": "2IMHVATM", "v": 34.8}, {"t": 49.03, "s": "2IMHVATM", "v": 15}, {"t": 49.08, "s": "2IMHVATM", "v": 34.8},
      {"t": 49.35, "s": "2IMHVATM", "v": 34.8}, {"t": 49.4, "s": "2IMHVATM", "v": 34.4}, {"t": 49.45, "s": "2IMHVATM", "v": 34.8}, {"t": 53.25, "s": "2IMHVATM", "v": 34.8},
      {"t": 53.3, "s": "2IMHVATM", "v": 34.4}, {"t": 53.35, "s": "2IMHVATM", "v": 34.8}, {"t": 55.3, "s": "2IMHVATM", "v": 34.8}, {"t": 55.4, "s": "2IMHVATM", "v": 34.37},
      {"t": 92.3, "s": "2IMHVATM", "v": 34.37}, {"t": 92.35, "s": "2IMHVATM", "v": 34.9}, {"t": 92.4, "s": "2IMHVATM", "v": 34.37}, {"t": 99.21, "s": "2IMHVATM", "v": 34.37},
      {"t": 99.26, "s": "2IMHVATM", "v": 15}, {"t": 99.31, "s": "2IMHVATM", "v": 34.37}, {"t": 130.65, "s": "2IMHVATM", "v": 34.37}, {"t": 130.7, "s": "2IMHVATM", "v": 33.96},
      {"t": 130.75, "s": "2IMHVATM", "v": 34.37}, {"t": 132.6, "s": "2IMHVATM", "v": 34.37}, {"t": 132.7, "s": "2IMHVATM", "v": 33.96}, {"t": 133.2, "s": "2IMHVATM", "v": 33.96},
      {"t": 133.3, "s": "2IMHVATM", "v": 34.37}, {"t": 133.9, "s": "2IMHVATM", "v": 34.37}, {"t": 134.0, "s": "2IMHVATM", "v": 33.96}, {"t": 134.5, "s": "2IMHVATM", "v": 33.96},
      {"t": 134.6, "s": "2IMHVATM", "v": 34.37}, {"t": 135.5, "s": "2IMHVATM", "v": 34.37}, {"t": 135.6, "s": "2IMHVATM", "v": 33.96}, {"t": 154.49, "s": "2IMHVATM", "v": 33.96}
    ],
    "fea": [
      {"t": 13.53, "s": "2FHTRMZT", "v": 23.47}, {"t": 31.3, "s": "2FHTRMZT", "v": 23.47}, {"t": 31.5, "s": "2FHTRMZT", "v": 22.9}, {"t": 103.54, "s": "2FHTRMZT", "v": 22.9}, {"t": 103.8, "s": "2FHTRMZT", "v": 22.4}, {"t": 154.49, "s": "2FHTRMZT", "v": 22.4},
      {"t": 13.53, "s": "2FRADPYT", "v": 17.64}, {"t": 68.67, "s": "2FRADPYT", "v": 17.64}, {"t": 68.9, "s": "2FRADPYT", "v": 17.16}, {"t": 148.42, "s": "2FRADPYT", "v": 17.16}, {"t": 148.65, "s": "2FRADPYT", "v": 16.68}, {"t": 154.49, "s": "2FRADPYT", "v": 16.68},
      {"t": 13.53, "s": "2FEPRATM", "v": 25.38}, {"t": 14.64, "s": "2FEPRATM", "v": 25.38}, {"t": 14.8, "s": "2FEPRATM", "v": 24.63}, {"t": 49.0, "s": "2FEPRATM", "v": 24.63},
      {"t": 49.03, "s": "2FEPRATM", "v": 22.96}, {"t": 49.06, "s": "2FEPRATM", "v": 24.63}, {"t": 99.23, "s": "2FEPRATM", "v": 24.63}, {"t": 99.26, "s": "2FEPRATM", "v": 22.96},
      {"t": 99.29, "s": "2FEPRATM", "v": 24.63}, {"t": 123.0, "s": "2FEPRATM", "v": 24.63}, {"t": 123.2, "s": "2FEPRATM", "v": 23.87}, {"t": 123.5, "s": "2FEPRATM", "v": 23.87},
      {"t": 123.6, "s": "2FEPRATM", "v": 24.63}, {"t": 124.3, "s": "2FEPRATM", "v": 24.63}, {"t": 124.4, "s": "2FEPRATM", "v": 23.87}, {"t": 125.3, "s": "2FEPRATM", "v": 23.87},
      {"t": 125.4, "s": "2FEPRATM", "v": 24.63}, {"t": 125.56, "s": "2FEPRATM", "v": 24.63}, {"t": 125.7, "s": "2FEPRATM", "v": 23.87}, {"t": 154.49, "s": "2FEPRATM", "v": 23.87},
      {"t": 13.53, "s": "2FE00ATM", "v": 22.98}, {"t": 14.0, "s": "2FE00ATM", "v": 22.98}, {"t": 14.04, "s": "2FE00ATM", "v": 22.7}, {"t": 14.1, "s": "2FE00ATM", "v": 22.98},
      {"t": 19.85, "s": "2FE00ATM", "v": 22.98}, {"t": 19.87, "s": "2FE00ATM", "v": 21.68}, {"t": 19.9, "s": "2FE00ATM", "v": 22.98}, {"t": 23.05, "s": "2FE00ATM", "v": 22.98},
      {"t": 23.09, "s": "2FE00ATM", "v": 22.7}, {"t": 23.13, "s": "2FE00ATM", "v": 22.98}, {"t": 31.5, "s": "2FE00ATM", "v": 22.98}, {"t": 31.54, "s": "2FE00ATM", "v": 23.65},
      {"t": 31.6, "s": "2FE00ATM", "v": 22.98}, {"t": 44.2, "s": "2FE00ATM", "v": 22.98}, {"t": 44.27, "s": "2FE00ATM", "v": 22.65}, {"t": 44.6, "s": "2FE00ATM", "v": 22.65},
      {"t": 44.7, "s": "2FE00ATM", "v": 22.98}, {"t": 45.4, "s": "2FE00ATM", "v": 22.98}, {"t": 45.5, "s": "2FE00ATM", "v": 22.65}, {"t": 46.0, "s": "2FE00ATM", "v": 22.65},
      {"t": 46.1, "s": "2FE00ATM", "v": 22.98}, {"t": 46.3, "s": "2FE00ATM", "v": 22.98}, {"t": 46.4, "s": "2FE00ATM", "v": 22.65}, {"t": 47.3, "s": "2FE00ATM", "v": 22.65},
      {"t": 47.4, "s": "2FE00ATM", "v": 22.98}, {"t": 47.5, "s": "2FE00ATM", "v": 22.65}, {"t": 49.0, "s": "2FE00ATM", "v": 22.65}, {"t": 49.03, "s": "2FE00ATM", "v": 15},
      {"t": 49.06, "s": "2FE00ATM", "v": 22.65}, {"t": 69.37, "s": "2FE00ATM", "v": 22.65}, {"t": 69.4, "s": "2FE00ATM", "v": 23.0}, {"t": 69.43, "s": "2FE00ATM", "v": 22.65},
      {"t": 74.95, "s": "2FE00ATM", "v": 22.65}, {"t": 74.98, "s": "2FE00ATM", "v": 23.65}, {"t": 75.01, "s": "2FE00ATM", "v": 22.65}, {"t": 75.67, "s": "2FE00ATM", "v": 22.65},
      {"t": 75.7, "s": "2FE00ATM", "v": 21.7}, {"t": 75.73, "s": "2FE00ATM", "v": 22.65}, {"t": 76.97, "s": "2FE00ATM", "v": 22.65}, {"t": 77.0, "s": "2FE00ATM", "v": 23.35},
      {"t": 77.03, "s": "2FE00ATM", "v": 22.65}, {"t": 83.76, "s": "2FE00ATM", "v": 22.65}, {"t": 83.79, "s": "2FE00ATM", "v": 21.7}, {"t": 83.82, "s": "2FE00ATM", "v": 22.65},
      {"t": 88.4, "s": "2FE00ATM", "v": 22.65}, {"t": 88.43, "s": "2FE00ATM", "v": 21.7}, {"t": 88.46, "s": "2FE00ATM", "v": 22.65}, {"t": 91.97, "s": "2FE00ATM", "v": 22.65},
      {"t": 92.0, "s": "2FE00ATM", "v": 23.0}, {"t": 92.03, "s": "2FE00ATM", "v": 22.65}, {"t": 94.95, "s": "2FE00ATM", "v": 22.65}, {"t": 94.98, "s": "2FE00ATM", "v": 21.06},
      {"t": 95.01, "s": "2FE00ATM", "v": 22.65}, {"t": 97.3, "s": "2FE00ATM", "v": 22.65}, {"t": 97.36, "s": "2FE00ATM", "v": 22.33}, {"t": 97.6, "s": "2FE00ATM", "v": 22.33},
      {"t": 97.7, "s": "2FE00ATM", "v": 22.65}, {"t": 98.6, "s": "2FE00ATM", "v": 22.65}, {"t": 98.7, "s": "2FE00ATM", "v": 22.33}, {"t": 99.23, "s": "2FE00ATM", "v": 22.33},
      {"t": 99.26, "s": "2FE00ATM", "v": 15}, {"t": 99.29, "s": "2FE00ATM", "v": 22.33}, {"t": 103.75, "s": "2FE00ATM", "v": 22.33}, {"t": 103.78, "s": "2FE00ATM", "v": 21.7},
      {"t": 103.81, "s": "2FE00ATM", "v": 22.33}, {"t": 104.23, "s": "2FE00ATM", "v": 22.33}, {"t": 104.26, "s": "2FE00ATM", "v": 23.0}, {"t": 104.29, "s": "2FE00ATM", "v": 22.33},
      {"t": 140.07, "s": "2FE00ATM", "v": 22.33}, {"t": 140.1, "s": "2FE00ATM", "v": 22.0}, {"t": 140.13, "s": "2FE00ATM", "v": 22.33}, {"t": 148.51, "s": "2FE00ATM", "v": 22.33},
      {"t": 148.54, "s": "2FE00ATM", "v": 22.69}, {"t": 148.57, "s": "2FE00ATM", "v": 22.33}, {"t": 154.49, "s": "2FE00ATM", "v": 22.33}
    ]
  },
  "vconcat": [
    {
      "width": 1660, "height": 662,
      "layer": [
        {"data": {"name": "span"}, "mark": {"type": "rect", "color": "#e4e4e4"}, "encoding": {"x": {"field": "start", "type": "quantitative", "scale": {"domain": [6.5, 161.45], "nice": false, "zero": false}, "axis": null}, "x2": {"field": "end"}}},
        {"data": {"name": "hilite"}, "mark": {"type": "rect", "color": "#e4d8d8"}, "encoding": {"x": {"field": "start", "type": "quantitative", "scale": {"domain": [6.5, 161.45], "nice": false, "zero": false}, "axis": null}, "x2": {"field": "end"}}},
        {"data": {"name": "gminor"}, "mark": {"type": "rule", "color": "#b0b0b0", "strokeWidth": 2, "strokeDash": [7, 4]}, "encoding": {"x": {"field": "t", "type": "quantitative", "scale": {"domain": [6.5, 161.45], "nice": false, "zero": false}, "axis": null}}},
        {"data": {"name": "gmajor"}, "mark": {"type": "rule", "color": "#b0b0b0", "strokeWidth": 1.5}, "encoding": {"x": {"field": "t", "type": "quantitative", "scale": {"domain": [6.5, 161.45], "nice": false, "zero": false}, "axis": null}}},
        {"data": {"name": "bounds"}, "mark": {"type": "rule", "color": "#000000", "strokeWidth": 2.5}, "encoding": {"x": {"field": "t", "type": "quantitative", "scale": {"domain": [6.5, 161.45], "nice": false, "zero": false}, "axis": null}}},
        {"data": {"name": "pitch"}, "mark": {"type": "line", "color": "#000000", "strokeWidth": 5}, "encoding": {"x": {"field": "t", "type": "quantitative", "scale": {"domain": [6.5, 161.45], "nice": false, "zero": false},
          "axis": {"orient": "top", "values": [29.4, 35.0, 60.2, 85.2, 110.6, 135.7, 160.7], "labelExpr": "datum.value < 30 ? '24533 HRC-S' : datum.value < 40 ? '24534 HRC-S' : datum.value < 70 ? '24535 HRC-S' : datum.value < 100 ? '24536 HRC-S' : datum.value < 120 ? '24537 HRC-S' : datum.value < 150 ? '24538 HRC-S' : '24539 HRC-S'", "ticks": false, "tickSize": 0, "labelAngle": 270, "labelAlign": "left", "labelBaseline": "middle", "labelPadding": 19, "labelFontSize": 27, "labelLimit": 400, "labelFontWeight": {"condition": {"test": "datum.value == 85.2", "value": "bold"}, "value": "normal"}, "title": null}},
          "y": {"field": "v", "type": "quantitative", "scale": {"domain": [45, 180], "nice": false, "zero": false}, "axis": {"orient": "left", "title": "Pitch Angle", "values": [60, 80, 100, 120, 140, 160, 180]}}}},
        {"data": {"name": "roll"}, "mark": {"type": "line", "color": "#ff7f0e", "strokeWidth": 3}, "encoding": {"x": {"field": "t", "type": "quantitative", "scale": {"domain": [6.5, 161.45], "nice": false, "zero": false}, "axis": null},
          "y": {"field": "v", "type": "quantitative", "scale": {"domain": [-1.1578, -1.0132], "nice": false, "zero": false}, "axis": {"orient": "right", "title": "Off Nominal Roll Angle", "titleAngle": 270, "titleBaseline": "top", "titleColor": "#ff7f0e", "labelColor": "#ff7f0e", "tickColor": "#ff7f0e", "tickSize": 10, "tickWidth": 2.5, "labelPadding": 13, "titlePadding": 10, "format": ".2f", "values": [-1.14, -1.12, -1.1, -1.08, -1.06, -1.04, -1.02]}}}}
      ],
      "resolve": {"scale": {"y": "independent"}, "axis": {"x": "independent", "y": "independent"}}
    },
    {
      "width": 1660, "height": 662,
      "layer": [
        {"data": {"name": "hilite"}, "mark": {"type": "rect", "color": "#fdf0f0"}, "encoding": {"x": {"field": "start", "type": "quantitative", "scale": {"domain": [6.5, 161.45], "nice": false, "zero": false}, "axis": null}, "x2": {"field": "end"}}},
        {"data": {"name": "gminor"}, "mark": {"type": "rule", "color": "#b0b0b0", "strokeWidth": 2, "strokeDash": [7, 4]}, "encoding": {"x": {"field": "t", "type": "quantitative", "scale": {"domain": [6.5, 161.45], "nice": false, "zero": false}, "axis": null}}},
        {"data": {"name": "gmajor"}, "mark": {"type": "rule", "color": "#b0b0b0", "strokeWidth": 1.5}, "encoding": {"x": {"field": "t", "type": "quantitative", "scale": {"domain": [6.5, 161.45], "nice": false, "zero": false}, "axis": null}}},
        {"data": {"name": "bounds"}, "mark": {"type": "rule", "color": "#000000", "strokeWidth": 2.5}, "encoding": {"x": {"field": "t", "type": "quantitative", "scale": {"domain": [6.5, 161.45], "nice": false, "zero": false}, "axis": null}}},
        {"data": {"name": "model"}, "mark": {"type": "line", "color": "#3a3a3a", "strokeWidth": 6, "opacity": 0.9}, "encoding": {"x": {"field": "t", "type": "quantitative", "scale": {"domain": [6.5, 161.45], "nice": false, "zero": false}, "axis": null},
          "y": {"field": "v", "type": "quantitative", "scale": {"domain": [19.77, 31.67], "nice": false, "zero": false}, "axis": null}}},
        {"data": {"name": "temp"}, "mark": {"type": "line", "strokeWidth": 6, "clip": true}, "encoding": {"x": {"field": "t", "type": "quantitative", "scale": {"domain": [6.5, 161.45], "nice": false, "zero": false}, "axis": null},
          "y": {"field": "v", "type": "quantitative", "scale": {"domain": [19.77, 31.67], "nice": false, "zero": false}, "axis": {"orient": "left", "title": "Temperature", "values": [20, 22, 24, 26, 28, 30]}},
          "color": {"field": "s", "type": "nominal", "scale": {"domain": ["2CHTRPZT", "2CEAHVPT", "2DTSTATT", "2DCENTRT"], "range": ["#1f77b4", "#ff7f0e", "#2ca02c", "#d62728"]},
            "legend": {"title": null, "orient": "none", "legendX": 14.5, "legendY": 14, "columns": 2, "columnPadding": 58, "symbolType": "M-1,0H3", "symbolSize": 784, "symbolStrokeWidth": 6, "labelOffset": 46}}}},
        {"data": {"name": "tbox"}, "mark": {"type": "rect", "fill": "#ffffff", "stroke": "#000000", "strokeWidth": 2.5}, "encoding": {"x": {"field": "x1", "type": "quantitative", "scale": {"domain": [6.5, 161.45], "nice": false, "zero": false}, "axis": null}, "x2": {"field": "x2"},
          "y": {"field": "y1", "type": "quantitative", "scale": {"domain": [19.77, 31.67], "nice": false, "zero": false}, "axis": null}, "y2": {"field": "y2"}}},
        {"data": {"name": "tnote"}, "mark": {"type": "text", "align": "left", "baseline": "middle", "fontSize": 26, "color": "#000000"}, "encoding": {"x": {"field": "t", "type": "quantitative", "scale": {"domain": [6.5, 161.45], "nice": false, "zero": false}, "axis": null},
          "y": {"field": "v", "type": "quantitative", "scale": {"domain": [19.77, 31.67], "nice": false, "zero": false}, "axis": null}, "text": {"field": "txt", "type": "nominal"}}}
      ],
      "resolve": {"axis": {"x": "independent", "y": "independent"}}
    },
    {
      "width": 1660, "height": 662,
      "layer": [
        {"data": {"name": "hilite"}, "mark": {"type": "rect", "color": "#fdf0f0"}, "encoding": {"x": {"field": "start", "type": "quantitative", "scale": {"domain": [6.5, 161.45], "nice": false, "zero": false}, "axis": null}, "x2": {"field": "end"}}},
        {"data": {"name": "gminor"}, "mark": {"type": "rule", "color": "#b0b0b0", "strokeWidth": 2, "strokeDash": [7, 4]}, "encoding": {"x": {"field": "t", "type": "quantitative", "scale": {"domain": [6.5, 161.45], "nice": false, "zero": false}, "axis": null}}},
        {"data": {"name": "gmajor"}, "mark": {"type": "rule", "color": "#b0b0b0", "strokeWidth": 1.5}, "encoding": {"x": {"field": "t", "type": "quantitative", "scale": {"domain": [6.5, 161.45], "nice": false, "zero": false}, "axis": {"orient": "bottom", "values": [60, 120], "labels": false, "tickSize": 28, "tickWidth": 2.5, "title": null}},
          "y": {"datum": 61300, "type": "quantitative", "scale": {"type": "log", "domain": [10, 61300], "nice": false}, "axis": null}, "y2": {"datum": 10}}},
        {"data": {"name": "bounds"}, "mark": {"type": "rule", "color": "#000000", "strokeWidth": 2.5}, "encoding": {"x": {"field": "t", "type": "quantitative", "scale": {"domain": [6.5, 161.45], "nice": false, "zero": false}, "axis": null}}},
        {"data": {"name": "tlm"}, "transform": [{"fold": ["2TLEV1RT", "2VLEV1RT"], "as": ["s", "v"]}], "mark": {"type": "line", "strokeWidth": 3.5, "clip": true}, "encoding": {"x": {"field": "t", "type": "quantitative", "scale": {"domain": [6.5, 161.45], "nice": false, "zero": false}, "axis": null},
          "y": {"field": "v", "type": "quantitative", "scale": {"type": "log", "domain": [10, 61300], "nice": false}, "axis": {"orient": "left", "title": "Rate", "values": [10, 100, 1000, 10000], "labelExpr": "datum.value == 10 ? '10¹' : datum.value == 100 ? '10²' : datum.value == 1000 ? '10³' : '10⁴'"}},
          "color": {"field": "s", "type": "nominal", "scale": {"domain": ["2TLEV1RT", "2VLEV1RT", "2SHEV1RT"], "range": ["#1f77b4", "#ff7f0e", "#2ca02c"]},
            "legend": {"title": null, "orient": "none", "legendX": 1403.5, "legendY": 14, "symbolType": "M-1,0H3", "symbolSize": 784, "symbolStrokeWidth": 6, "labelOffset": 46}}}},
        {"data": {"name": "tlm"}, "transform": [{"fold": ["2SHEV1RT"], "as": ["s", "v"]}], "mark": {"type": "line", "strokeWidth": 3.5, "clip": true}, "encoding": {"x": {"field": "t", "type": "quantitative", "scale": {"domain": [6.5, 161.45], "nice": false, "zero": false}, "axis": null},
          "y": {"field": "v", "type": "quantitative", "scale": {"type": "log", "domain": [10, 61300], "nice": false}, "axis": {"orient": "left", "title": null, "labels": false, "tickSize": 10, "tickWidth": 2, "values": [20, 30, 40, 50, 60, 70, 80, 90, 200, 300, 400, 500, 600, 700, 800, 900, 2000, 3000, 4000, 5000, 6000, 7000, 8000, 9000, 20000, 30000, 40000, 50000, 60000]}},
          "color": {"field": "s", "type": "nominal", "scale": {"domain": ["2TLEV1RT", "2VLEV1RT", "2SHEV1RT"], "range": ["#1f77b4", "#ff7f0e", "#2ca02c"]}, "legend": null}}}
      ],
      "resolve": {"axis": {"x": "independent", "y": "independent"}}
    },
    {
      "width": 1660, "height": 662,
      "layer": [
        {"data": {"name": "hilite"}, "mark": {"type": "rect", "color": "#fdf0f0"}, "encoding": {"x": {"field": "start", "type": "quantitative", "scale": {"domain": [6.5, 161.45], "nice": false, "zero": false}, "axis": null}, "x2": {"field": "end"},
          "y": {"datum": 20, "type": "quantitative", "scale": {"domain": [-20, 20], "nice": false, "zero": false}, "axis": null}, "y2": {"datum": -20}}},
        {"data": {"name": "gminor"}, "mark": {"type": "rule", "color": "#b0b0b0", "strokeWidth": 2, "strokeDash": [7, 4]}, "encoding": {"x": {"field": "t", "type": "quantitative", "scale": {"domain": [6.5, 161.45], "nice": false, "zero": false}, "axis": null},
          "y": {"datum": 20, "type": "quantitative", "scale": {"domain": [-20, 20], "nice": false, "zero": false}, "axis": null}, "y2": {"datum": -20}}},
        {"data": {"name": "gmajor"}, "mark": {"type": "rule", "color": "#b0b0b0", "strokeWidth": 1.5}, "encoding": {"x": {"field": "t", "type": "quantitative", "scale": {"domain": [6.5, 161.45], "nice": false, "zero": false}, "axis": {"orient": "bottom", "values": [60, 120], "labels": false, "tickSize": 28, "tickWidth": 2.5, "title": null}},
          "y": {"datum": 20, "type": "quantitative", "scale": {"domain": [-20, 20], "nice": false, "zero": false}, "axis": null}, "y2": {"datum": -20}}},
        {"data": {"name": "bounds"}, "mark": {"type": "rule", "color": "#000000", "strokeWidth": 2.5}, "encoding": {"x": {"field": "t", "type": "quantitative", "scale": {"domain": [6.5, 161.45], "nice": false, "zero": false}, "axis": null},
          "y": {"datum": 20, "type": "quantitative", "scale": {"domain": [-20, 20], "nice": false, "zero": false}, "axis": null}, "y2": {"datum": -20}}},
        {"data": {"name": "volt"}, "mark": {"type": "line", "strokeWidth": 6, "clip": true}, "encoding": {"x": {"field": "t", "type": "quantitative", "scale": {"domain": [6.5, 161.45], "nice": false, "zero": false}, "axis": null},
          "y": {"field": "v", "type": "quantitative", "scale": {"domain": [-20, 20], "nice": false, "zero": false}, "axis": {"orient": "left", "title": "Volt", "values": [-20, -15, -10, -5, 0, 5, 10, 15, 20]}},
          "color": {"field": "s", "type": "nominal", "scale": {"domain": ["2P15VBVL", "2N15VBVL", "2P05VBVL"], "range": ["#1f77b4", "#ff7f0e", "#2ca02c"]},
            "legend": {"title": null, "orient": "none", "legendX": 14.5, "legendY": 265, "symbolType": "M-1,0H3", "symbolSize": 784, "symbolStrokeWidth": 6, "labelOffset": 46}}}},
        {"data": {"name": "tlm"}, "transform": [{"fold": ["2N15VBVL"], "as": ["s", "v"]}], "mark": {"type": "line", "strokeWidth": 6, "clip": true}, "encoding": {"x": {"field": "t", "type": "quantitative", "scale": {"domain": [6.5, 161.45], "nice": false, "zero": false}, "axis": null},
          "y": {"field": "v", "type": "quantitative", "scale": {"domain": [-20, 20], "nice": false, "zero": false}, "axis": null},
          "color": {"field": "s", "type": "nominal", "scale": {"domain": ["2P15VBVL", "2N15VBVL", "2P05VBVL"], "range": ["#1f77b4", "#ff7f0e", "#2ca02c"]}, "legend": null}}}
      ],
      "resolve": {"axis": {"x": "independent", "y": "independent"}}
    },
    {
      "width": 1660, "height": 662,
      "layer": [
        {"data": {"name": "hilite"}, "mark": {"type": "rect", "color": "#fdf0f0"}, "encoding": {"x": {"field": "start", "type": "quantitative", "scale": {"domain": [6.5, 161.45], "nice": false, "zero": false}, "axis": null}, "x2": {"field": "end"},
          "y": {"datum": 266.2, "type": "quantitative", "scale": {"domain": [0, 266.2], "nice": false, "zero": false}, "axis": null}, "y2": {"datum": 0}}},
        {"data": {"name": "gminor"}, "mark": {"type": "rule", "color": "#b0b0b0", "strokeWidth": 2, "strokeDash": [7, 4]}, "encoding": {"x": {"field": "t", "type": "quantitative", "scale": {"domain": [6.5, 161.45], "nice": false, "zero": false}, "axis": null},
          "y": {"datum": 266.2, "type": "quantitative", "scale": {"domain": [0, 266.2], "nice": false, "zero": false}, "axis": null}, "y2": {"datum": 0}}},
        {"data": {"name": "gmajor"}, "mark": {"type": "rule", "color": "#b0b0b0", "strokeWidth": 1.5}, "encoding": {"x": {"field": "t", "type": "quantitative", "scale": {"domain": [6.5, 161.45], "nice": false, "zero": false}, "axis": {"orient": "bottom", "values": [60, 120], "labels": false, "tickSize": 28, "tickWidth": 2.5, "title": null}},
          "y": {"datum": 266.2, "type": "quantitative", "scale": {"domain": [0, 266.2], "nice": false, "zero": false}, "axis": null}, "y2": {"datum": 0}}},
        {"data": {"name": "bounds"}, "mark": {"type": "rule", "color": "#000000", "strokeWidth": 2.5}, "encoding": {"x": {"field": "t", "type": "quantitative", "scale": {"domain": [6.5, 161.45], "nice": false, "zero": false}, "axis": null},
          "y": {"datum": 266.2, "type": "quantitative", "scale": {"domain": [0, 266.2], "nice": false, "zero": false}, "axis": null}, "y2": {"datum": 0}}},
        {"data": {"name": "tlm"}, "transform": [{"fold": ["2IMHVLV", "2IMHBLV"], "as": ["s", "v"]}], "mark": {"type": "circle", "size": 150, "opacity": 1, "clip": true}, "encoding": {"x": {"field": "t", "type": "quantitative", "scale": {"domain": [6.5, 161.45], "nice": false, "zero": false}, "axis": null},
          "y": {"field": "v", "type": "quantitative", "scale": {"domain": [0, 266.2], "nice": false, "zero": false}, "axis": {"orient": "left", "title": "HV Monitor", "values": [0, 50, 100, 150, 200, 250]}},
          "color": {"field": "s", "type": "nominal", "scale": {"domain": ["2SPHBLV", "2SPHVLV", "2IMHVLV", "2IMHBLV"], "range": ["#1f77b4", "#ff7f0e", "#2ca02c", "#d62728"]},
            "legend": {"title": null, "orient": "none", "legendX": 718.5, "legendY": 471.5, "symbolType": "circle", "symbolSize": 80, "symbolOffset": 12, "labelOffset": 25, "rowPadding": 15}}}}
      ],
      "resolve": {"axis": {"x": "independent", "y": "independent"}}
    },
    {
      "width": 1660, "height": 662,
      "layer": [
        {"data": {"name": "hilite"}, "mark": {"type": "rect", "color": "#fdf0f0"}, "encoding": {"x": {"field": "start", "type": "quantitative", "scale": {"domain": [6.5, 161.45], "nice": false, "zero": false}, "axis": null}, "x2": {"field": "end"}}},
        {"data": {"name": "gminor"}, "mark": {"type": "rule", "color": "#b0b0b0", "strokeWidth": 2, "strokeDash": [7, 4]}, "encoding": {"x": {"field": "t", "type": "quantitative", "scale": {"domain": [6.5, 161.45], "nice": false, "zero": false}, "axis": null}}},
        {"data": {"name": "gmajor"}, "mark": {"type": "rule", "color": "#b0b0b0", "strokeWidth": 1.5}, "encoding": {"x": {"field": "t", "type": "quantitative", "scale": {"domain": [6.5, 161.45], "nice": false, "zero": false}, "axis": {"orient": "bottom", "values": [60, 120], "labels": false, "tickSize": 28, "tickWidth": 2.5, "title": null}},
          "y": {"datum": 36.31, "type": "quantitative", "scale": {"domain": [19.49, 36.31], "nice": false, "zero": false}, "axis": null}, "y2": {"datum": 19.49}}},
        {"data": {"name": "bounds"}, "mark": {"type": "rule", "color": "#000000", "strokeWidth": 2.5}, "encoding": {"x": {"field": "t", "type": "quantitative", "scale": {"domain": [6.5, 161.45], "nice": false, "zero": false}, "axis": null}}},
        {"data": {"name": "dtemp"}, "mark": {"type": "line", "strokeWidth": 6, "clip": true}, "encoding": {"x": {"field": "t", "type": "quantitative", "scale": {"domain": [6.5, 161.45], "nice": false, "zero": false}, "axis": null},
          "y": {"field": "v", "type": "quantitative", "scale": {"domain": [19.49, 36.31], "nice": false, "zero": false}, "axis": {"orient": "left", "title": "Detector Temp", "values": [20, 22, 24, 26, 28, 30, 32, 34, 36]}},
          "color": {"field": "s", "type": "nominal", "scale": {"domain": ["2SPINATM", "2SPHVATM", "2IMINATM", "2IMHVATM"], "range": ["#1f77b4", "#ff7f0e", "#2ca02c", "#d62728"]},
            "legend": {"title": null, "orient": "none", "legendX": 1399.5, "legendY": 244.5, "symbolType": "M-1,0H3", "symbolSize": 784, "symbolStrokeWidth": 6, "labelOffset": 46}}}}
      ],
      "resolve": {"axis": {"x": "independent", "y": "independent"}}
    },
    {
      "width": 1660, "height": 662,
      "layer": [
        {"data": {"name": "hilite"}, "mark": {"type": "rect", "color": "#fdf0f0"}, "encoding": {"x": {"field": "start", "type": "quantitative", "scale": {"domain": [6.5, 161.45], "nice": false, "zero": false}, "axis": null}, "x2": {"field": "end"}}},
        {"data": {"name": "gminor"}, "mark": {"type": "rule", "color": "#b0b0b0", "strokeWidth": 2, "strokeDash": [7, 4]}, "encoding": {"x": {"field": "t", "type": "quantitative", "scale": {"domain": [6.5, 161.45], "nice": false, "zero": false},
          "axis": {"orient": "bottom", "values": [15, 30, 45, 75, 90, 105, 135, 150], "labelExpr": "format(datum.value % 60, 'd')", "labelFontSize": 17.5, "tickSize": 6, "tickWidth": 2, "labelPadding": 3, "title": null}},
          "y": {"datum": 26.133, "type": "quantitative", "scale": {"domain": [15.654, 26.133], "nice": false, "zero": false}, "axis": null}, "y2": {"datum": 15.654}}},
        {"data": {"name": "gmajor"}, "mark": {"type": "rule", "color": "#b0b0b0", "strokeWidth": 1.5}, "encoding": {"x": {"field": "t", "type": "quantitative", "scale": {"domain": [6.5, 161.45], "nice": false, "zero": false},
          "axis": {"orient": "bottom", "values": [60, 120], "labelExpr": "datum.value == 60 ? '14h' : '15h'", "labelFontSize": 28, "tickSize": 28, "tickWidth": 2.5, "labelPadding": 6, "title": "2021-04-04 (094)", "titleFontSize": 33, "titlePadding": 8}},
          "y": {"datum": 26.133, "type": "quantitative", "scale": {"domain": [15.654, 26.133], "nice": false, "zero": false}, "axis": null}, "y2": {"datum": 15.654}}},
        {"data": {"name": "bounds"}, "mark": {"type": "rule", "color": "#000000", "strokeWidth": 2.5}, "encoding": {"x": {"field": "t", "type": "quantitative", "scale": {"domain": [6.5, 161.45], "nice": false, "zero": false}, "axis": null}}},
        {"data": {"name": "fea"}, "mark": {"type": "line", "strokeWidth": 6, "clip": true}, "encoding": {"x": {"field": "t", "type": "quantitative", "scale": {"domain": [6.5, 161.45], "nice": false, "zero": false}, "axis": null},
          "y": {"field": "v", "type": "quantitative", "scale": {"domain": [15.654, 26.133], "nice": false, "zero": false}, "axis": {"orient": "left", "title": "FEA Temp", "values": [16, 18, 20, 22, 24, 26]}},
          "color": {"field": "s", "type": "nominal", "scale": {"domain": ["2FHTRMZT", "2FRADPYT", "2FEPRATM", "2FE00ATM"], "range": ["#1f77b4", "#ff7f0e", "#2ca02c", "#d62728"]},
            "legend": {"title": null, "orient": "none", "legendX": 1398.5, "legendY": 244.5, "symbolType": "M-1,0H3", "symbolSize": 784, "symbolStrokeWidth": 6, "labelOffset": 46}}}}
      ],
      "resolve": {"axis": {"x": "independent", "y": "independent"}}
    }
  ]
}
